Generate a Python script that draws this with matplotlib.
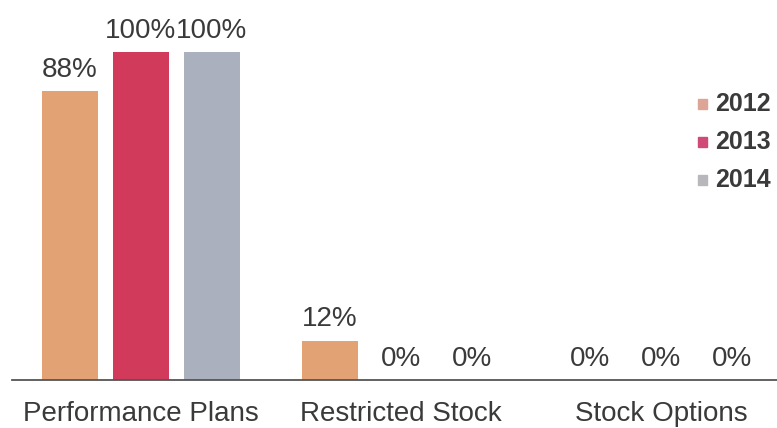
import matplotlib
matplotlib.use("Agg")
import matplotlib.pyplot as plt
import numpy as np

categories = ["Performance Plans", "Restricted Stock", "Stock Options"]
years = ["2012", "2013", "2014"]
values_2012 = [88, 12, 0]
values_2013 = [100, 0, 0]
values_2014 = [100, 0, 0]
series = [values_2012, values_2013, values_2014]
bar_colors = ["#E2A273", "#D23A5C", "#ABB0BE"]
legend_colors = ["#DDA595", "#CF4A78", "#B8B8BC"]

plt.rcParams['font.family'] = ['Liberation Sans', 'DejaVu Sans']
text_color = "#3a3a3a"

fig = plt.figure(figsize=(7.77, 4.28), dpi=100)
ax = fig.add_axes([12/777, 48/428, 1 - 12/777, 380/428])

x = np.arange(len(categories))
width = 0.215
offset = 0.273
for i, (vals, col) in enumerate(zip(series, bar_colors)):
    pos = x + (i - 1) * offset
    vv = np.array(vals) / 100.0
    ax.bar(pos, vv, width=width, color=col, edgecolor='none')
    for p, v, raw in zip(pos, vv, vals):
        ax.annotate(f"{raw}%", (p, v), xytext=(0, 6), textcoords="offset points",
                    ha="center", va="bottom", fontsize=20, color=text_color)

ax.set_xlim(-0.496, 2.446)
ax.set_ylim(0, 1.159)
ax.set_xticks(x)
ax.set_xticklabels(categories, fontsize=20, color=text_color)
ax.tick_params(axis='x', length=0, pad=15)
ax.set_yticks([])
for s in ["top", "right", "left"]:
    ax.spines[s].set_visible(False)
ax.spines["bottom"].set_color("#555555")
ax.spines["bottom"].set_linewidth(1.3)

# legend
for j, (yr, col) in enumerate(zip(years, legend_colors)):
    ypx = 104 + j * 38
    fig.patches.append(plt.Rectangle((698/777, 1 - (ypx + 5)/428), 9/777, 10/428,
                                     transform=fig.transFigure, color=col, figure=fig))
    fig.text(715/777, 1 - ypx/428, yr, fontsize=18, fontweight='bold',
             color=text_color, va='center', ha='left')

fig.savefig("out.png", dpi=100, facecolor="white")
